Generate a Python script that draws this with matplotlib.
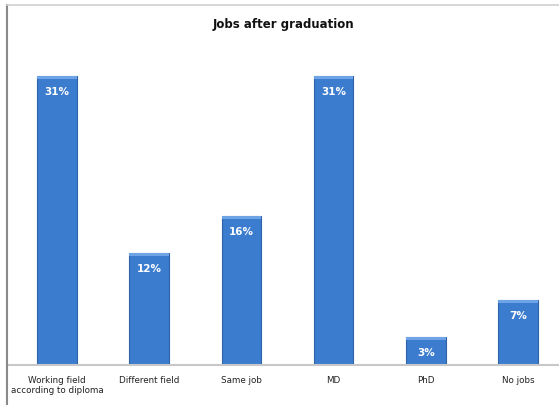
import matplotlib
matplotlib.use("Agg")
import matplotlib.pyplot as plt

categories = ["Working field\naccording to diploma", "Different field", "Same job", "MD", "PhD", "No jobs"]
values = [31, 12, 16, 31, 3, 7]
labels = ["31%", "12%", "16%", "31%", "3%", "7%"]
title = "Jobs after graduation"

W, H = 559, 406
fig = plt.figure(figsize=(W / 100, H / 100), dpi=100)
ax = fig.add_axes([7 / W, 40 / H, 552 / W, 360 / H])

x = list(range(len(categories)))
bars = ax.bar(x, values, width=0.43, color="#3c7cce", edgecolor="#2e63a8", linewidth=0.8)
for b in bars:
    # lighter top cap
    ax.bar(b.get_x() + b.get_width() / 2, 0.35, bottom=b.get_height() - 0.35,
           width=b.get_width(), color="#6ea3e6", linewidth=0)

for xi, v, lab in zip(x, values, labels):
    ax.annotate(lab, (xi, v), xytext=(0, -13), textcoords="offset points",
                ha="center", va="baseline", color="white", fontsize=7.5,
                fontweight="bold", family="DejaVu Sans")

ax.set_xlim(-0.542, 5.445)
ax.set_ylim(0, 38.6)
ax.set_xticks(x)
ax.set_xticklabels(categories, fontsize=6.3, color="#222222", family="DejaVu Sans")
ax.tick_params(axis="x", length=0, pad=7)
ax.set_yticks([])

ax.spines["right"].set_visible(False)
ax.spines["left"].set_color("#8a8a8a")
ax.spines["left"].set_linewidth(1.5)
ax.spines["top"].set_color("#cfcfcf")
ax.spines["top"].set_linewidth(1.2)
ax.spines["bottom"].set_color("#c8c8c8")
ax.spines["bottom"].set_linewidth(1.5)

ax.set_title(title, fontsize=8.5, fontweight="bold", pad=-16, y=1.0, color="#111111")
fig.lines.append(plt.Line2D([7 / W, 7 / W], [0, 40 / H], transform=fig.transFigure,
                            color="#8a8a8a", linewidth=1.5))

fig.savefig("out.png", dpi=100)
